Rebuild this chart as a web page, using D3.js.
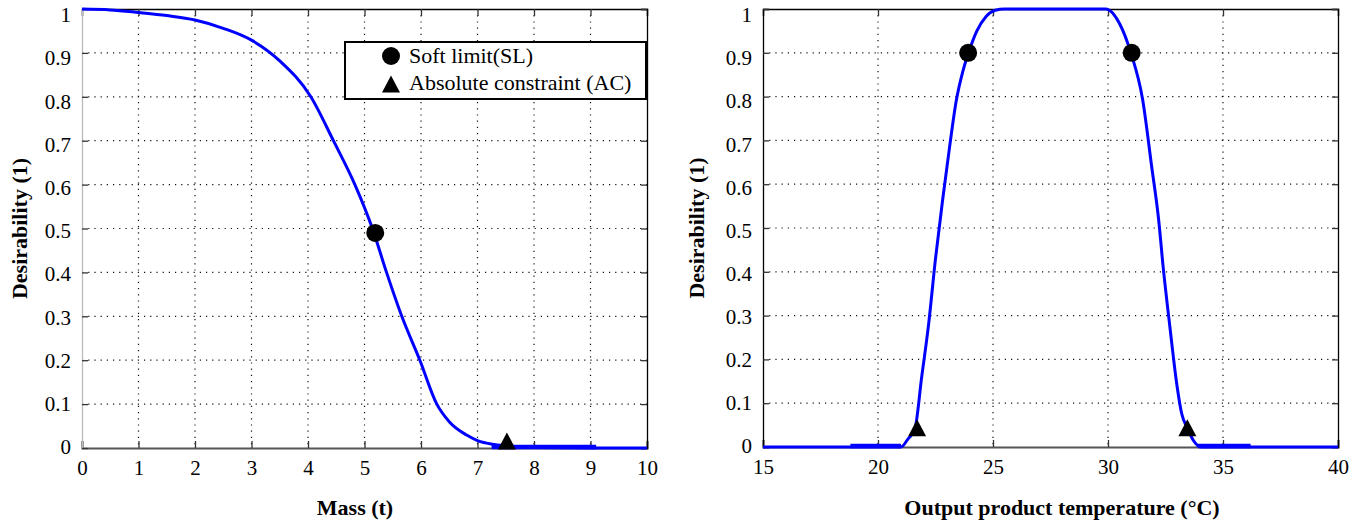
<!DOCTYPE html>
<html>
<head>
<meta charset="utf-8">
<script src="https://cdn.jsdelivr.net/npm/d3@7"></script>
<style>
body { margin: 0; background: #fff; }
svg { display: block; }
svg text { font-family: "Liberation Serif", "Times New Roman", serif; }
</style>
</head>
<body>
<svg id="chart" width="1357" height="523"></svg>
<script>
// left panel: mass
var massX = [0, 0.5, 1, 1.5, 2, 2.5, 3, 3.5, 4.05, 4.45, 4.83, 5.14, 5.39, 5.66, 5.98, 6.28, 6.5, 6.8, 7.0, 7.3, 7.6, 8, 9, 10];
var massD = [1, 0.998, 0.992, 0.985, 0.975, 0.956, 0.929, 0.882, 0.8, 0.7, 0.6, 0.5, 0.4, 0.3, 0.2, 0.1, 0.06, 0.03, 0.017, 0.008, 0.004, 0.001, 0, 0];
var massTicks = [0, 1, 2, 3, 4, 5, 6, 7, 8, 9, 10];
var massSL = [[5.19, 0.49]];
var massAC = [[7.52, 0.016]];
var massOverlap = [[7.25, 9.1]];

// right panel: temperature
var tempX = [15, 19, 21, 21.3, 21.6, 21.9, 22.2, 22.5, 22.8, 23.1, 23.4, 23.7, 24.0, 24.3, 24.7, 25.1, 25.5, 29.9, 30.5, 31.0, 31.5, 31.9, 32.2, 32.4, 32.7, 33.0, 33.2, 33.45, 33.7, 34.05, 36, 40];
var tempD = [0, 0, 0, 0.018, 0.04, 0.16, 0.28, 0.43, 0.56, 0.68, 0.79, 0.86, 0.91, 0.95, 0.983, 0.997, 1, 1, 0.967, 0.899, 0.795, 0.64, 0.52, 0.41, 0.27, 0.14, 0.077, 0.043, 0.016, 0, 0, 0];
var tempTicks = [15, 20, 25, 30, 35, 40];
var tempSL = [[23.92, 0.9], [31.03, 0.9]];
var tempAC = [[21.7, 0.044], [33.45, 0.044]];
var tempOverlap = [[18.8, 21.0], [33.9, 36.2]];

var yTicks = [0, 0.1, 0.2, 0.3, 0.4, 0.5, 0.6, 0.7, 0.8, 0.9, 1];
var legendLabels = ["Soft limit(SL)", "Absolute constraint (AC)"];

var svg = d3.select("#chart");
var serif = "Liberation Serif, Times New Roman, serif";

function tri(cx, cy) {
  return "M" + (cx - 9) + "," + (cy + 8.5) + "L" + (cx + 9) + "," + (cy + 8.5) + "L" + cx + "," + (cy - 8.5) + "Z";
}

function panel(cfg) {
  var x = d3.scaleLinear().domain(cfg.domain).range([cfg.left, cfg.right]);
  var y = d3.scaleLinear().domain([0, 1]).range([cfg.bottom, cfg.top]);
  var g = svg.append("g");

  // grid
  g.selectAll(".vg").data(cfg.ticks.slice(1, -1)).enter().append("line")
    .attr("x1", function(d) { return x(d); }).attr("x2", function(d) { return x(d); })
    .attr("y1", cfg.top).attr("y2", cfg.bottom)
    .attr("stroke", "#111").attr("stroke-width", 1.2).attr("stroke-dasharray", "1.2,5");
  g.selectAll(".hg").data(yTicks.slice(1, -1)).enter().append("line")
    .attr("y1", function(d) { return y(d); }).attr("y2", function(d) { return y(d); })
    .attr("x1", cfg.left).attr("x2", cfg.right)
    .attr("stroke", "#111").attr("stroke-width", 1.2).attr("stroke-dasharray", "1.2,5");

  // axes (inward ticks on all four sides)
  var fmt = function(d) { return d3.format("~g")(d); };
  var bx = g.append("g").attr("transform", "translate(0," + cfg.bottom + ")")
    .call(d3.axisBottom(x).tickValues(cfg.ticks).tickSize(-7).tickPadding(12).tickFormat(fmt));
  var tx = g.append("g").attr("transform", "translate(0," + cfg.top + ")")
    .call(d3.axisTop(x).tickValues(cfg.ticks).tickSize(-7).tickFormat(""));
  var ly = g.append("g").attr("transform", "translate(" + cfg.left + ",0)")
    .call(d3.axisLeft(y).tickValues(yTicks).tickSize(-6).tickPadding(11).tickFormat(fmt));
  var ry = g.append("g").attr("transform", "translate(" + cfg.right + ",0)")
    .call(d3.axisRight(y).tickValues(yTicks).tickSize(-6).tickFormat(""));
  [bx, tx, ly, ry].forEach(function(a) {
    a.attr("font-family", serif);
    a.select(".domain").attr("stroke", "#000").attr("stroke-width", 1.3);
    a.selectAll(".tick line").attr("stroke", "#333").attr("stroke-width", 1.3);
    a.selectAll("text").attr("font-size", 21).attr("fill", "#000").style("font-family", serif);
  });
  // labels drift slightly downward toward the top, as in the original export
  ly.selectAll(".tick text").attr("y", function(d) { return -1 + 7 * d; });
  bx.select(".domain").attr("stroke", "#555").attr("stroke-width", 2);
  if (cfg.leftAxisColor) ly.select(".domain").attr("stroke", cfg.leftAxisColor);

  // overlap segments (thicker drawn parts)
  cfg.overlap.forEach(function(s) {
    g.append("line").attr("x1", x(s[0])).attr("x2", x(s[1]))
      .attr("y1", y(0) - 1).attr("y2", y(0) - 1)
      .attr("stroke", "#0000ff").attr("stroke-width", 4.5);
  });

  // curve
  var pts = cfg.xs.map(function(v, i) { return [v, cfg.ys[i]]; });
  g.append("path").datum(pts)
    .attr("fill", "none").attr("stroke", "#0000ff").attr("stroke-width", 3)
    .attr("d", d3.line().x(function(d) { return x(d[0]); }).y(function(d) { return y(d[1]); }).curve(d3.curveMonotoneX));

  // markers
  g.selectAll(".sl").data(cfg.sl).enter().append("circle")
    .attr("cx", function(d) { return x(d[0]); }).attr("cy", function(d) { return y(d[1]); })
    .attr("r", 9).attr("fill", "#000");
  g.selectAll(".ac").data(cfg.ac).enter().append("path")
    .attr("d", function(d) { return tri(x(d[0]), y(d[1])); }).attr("fill", "#000");

  // labels
  g.append("text").attr("x", cfg.xLabelX).attr("y", 515).attr("text-anchor", "middle")
    .attr("font-size", 22).attr("font-weight", "bold").text(cfg.xLabel);
  g.append("text").attr("transform", "translate(" + cfg.yLabelX + "," + ((cfg.top + cfg.bottom) / 2) + ") rotate(-90)")
    .attr("text-anchor", "middle").attr("font-size", 22).attr("font-weight", "bold").text("Desirability (1)");
  return { x: x, y: y, g: g };
}

var p1 = panel({ domain: [0, 10], left: 82, right: 647, top: 9, bottom: 448, ticks: massTicks,
  xs: massX, ys: massD, sl: massSL, ac: massAC, overlap: massOverlap,
  xLabel: "Mass (t)", xLabelX: 355, yLabelX: 27, leftAxisColor: "#bbb" });
var p2 = panel({ domain: [15, 40], left: 763, right: 1338, top: 9, bottom: 447, ticks: tempTicks,
  xs: tempX, ys: tempD, sl: tempSL, ac: tempAC, overlap: tempOverlap,
  xLabel: "Output product temperature (\u00B0C)", xLabelX: 1062, yLabelX: 704 });

// legend
var lg = svg.append("g");
lg.append("rect").attr("x", 345).attr("y", 42).attr("width", 301).attr("height", 57)
  .attr("fill", "#fff").attr("stroke", "#000").attr("stroke-width", 2);
lg.append("circle").attr("cx", 391).attr("cy", 56).attr("r", 9).attr("fill", "#000");
lg.append("path").attr("d", tri(391, 84)).attr("fill", "#000");
lg.selectAll(".lt").data(legendLabels).enter().append("text")
  .attr("x", 409).attr("y", function(d, i) { return 63 + i * 27; })
  .attr("font-size", 22).text(function(d) { return d; });
</script>
</body>
</html>
